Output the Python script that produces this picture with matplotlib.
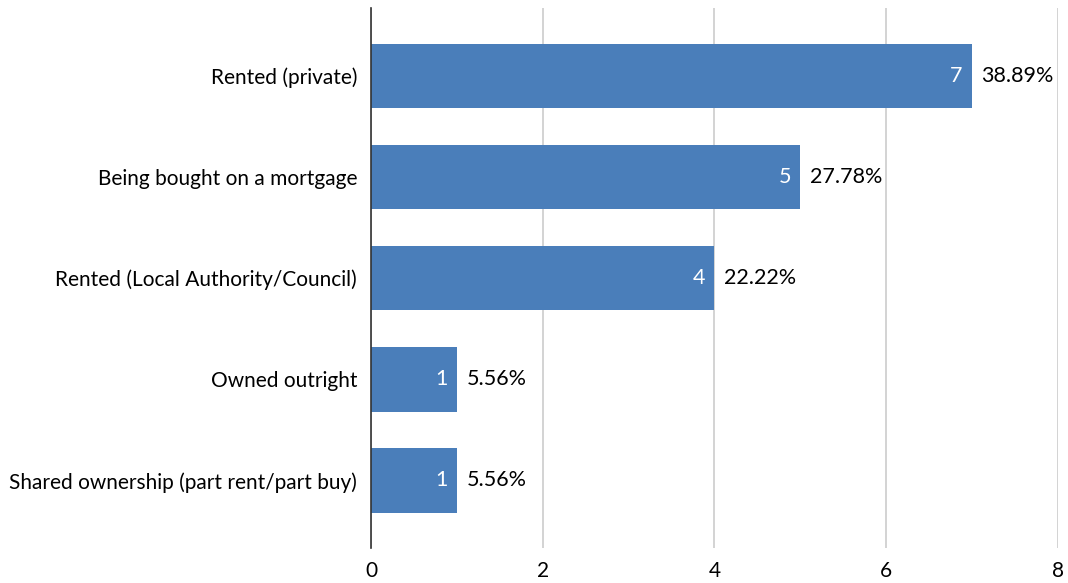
import matplotlib
matplotlib.use("Agg")
import matplotlib.pyplot as plt

plt.rcParams['font.family'] = ['Lato', 'DejaVu Sans']

categories = ["Rented (private)", "Being bought on a mortgage",
              "Rented (Local Authority/Council)", "Owned outright",
              "Shared ownership (part rent/part buy)"]
counts = [7, 5, 4, 1, 1]
percents = ["38.89%", "27.78%", "22.22%", "5.56%", "5.56%"]

fig = plt.figure(figsize=(10.68, 5.83), dpi=100)
ax = fig.add_axes([0.3474, 0.060, 0.6432, 0.926])

y = list(range(len(categories)))
bars = ax.barh(y, counts, height=0.64, color="#4a7eba", zorder=3)

for yi, c, p in zip(y, counts, percents):
    ax.text(c - 0.11, yi, str(c), color="white", ha="right", va="center", fontsize=15.5, zorder=4)
    ax.text(c + 0.11, yi, p, color="black", ha="left", va="center", fontsize=15.5, zorder=4)

ax.set_yticks(y)
ax.set_yticklabels(categories, fontsize=15)
ax.set_ylim(len(categories) - 0.33, -0.67)
ax.set_xlim(0, 8)
ax.set_xticks([0, 2, 4, 6, 8])
ax.tick_params(axis="x", labelsize=15, length=0, pad=9)
ax.tick_params(axis="y", length=0, pad=10)
ax.grid(axis="x", color="#cccccc", linewidth=1.2, zorder=0)
for s in ["top", "right", "bottom"]:
    ax.spines[s].set_visible(False)
ax.spines["left"].set_color("#333333")
ax.spines["left"].set_linewidth(1.2)
ax.spines["left"].set_zorder(5)

fig.savefig("out.png", dpi=100)
